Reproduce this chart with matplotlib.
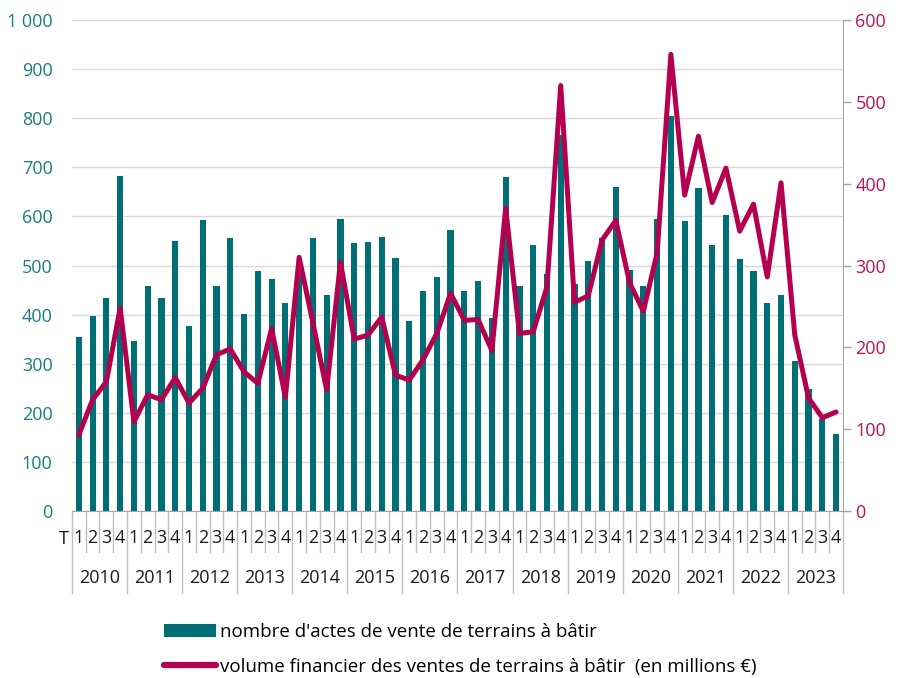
import numpy as np
import matplotlib.pyplot as plt
from matplotlib.transforms import blended_transform_factory

plt.rcParams['font.family'] = ['Open Sans', 'DejaVu Sans']

years = list(range(2010, 2024))
quarters = ["1", "2", "3", "4"]

# nombre d'actes de vente de terrains à bâtir (axe gauche)
actes = [355, 398, 434, 683,
         346, 459, 434, 550,
         377, 592, 458, 555,
         401, 489, 472, 423,
         480, 557, 439, 594,
         545, 548, 558, 515,
         386, 448, 476, 572,
         448, 468, 394, 680,
         459, 542, 482, 765,
         462, 509, 556, 660,
         491, 458, 594, 805,
         591, 657, 542, 603,
         513, 489, 423, 440,
         305, 248, 187, 157]

# volume financier en millions d'euros (axe droit)
volume = [93, 136, 158, 248,
          109, 142, 136, 163,
          132, 150, 191, 198,
          170, 156, 223, 139,
          310, 230, 148, 304,
          210, 215, 237, 166,
          160, 185, 217, 266,
          233, 234, 196, 370,
          217, 219, 274, 520,
          255, 263, 331, 355,
          279, 244, 315, 558,
          386, 458, 377, 419,
          342, 375, 286, 401,
          215, 138, 114, 121]

teal = "#006e75"
crimson = "#b5004f"
grey = "#a6a6a6"

fig = plt.figure(figsize=(9.04, 6.78), dpi=100)
ax = fig.add_axes([0.0796, 0.2463, 0.8529, 0.7242])
ax2 = ax.twinx()

x = np.arange(len(actes))
bars = ax.bar(x, actes, width=0.45, color=teal, zorder=2,
              label="nombre d'actes de vente de terrains à bâtir")
line, = ax2.plot(x, volume, color=crimson, lw=3.6, solid_joinstyle="round",
                 solid_capstyle="round",
                 label="volume financier des ventes de terrains à bâtir  (en millions €)")

ax.set_xlim(-0.5, len(actes) - 0.5)
ax.set_ylim(0, 1000)
ax2.set_ylim(0, 600)

ax.set_yticks(range(0, 1001, 100))
ax.set_yticklabels([f"{v:,}".replace(",", " ") for v in range(0, 1001, 100)])
ax2.set_yticks(range(0, 601, 100))

ax.grid(axis="y", color="#d9d9d9", lw=1, zorder=0)
ax.set_axisbelow(True)

for a in (ax, ax2):
    for s in ("top", "left"):
        a.spines[s].set_visible(False)
ax.spines["right"].set_visible(False)
ax2.spines["bottom"].set_visible(False)
ax2.spines["right"].set_color(grey)
ax.spines["bottom"].set_color(grey)

ax.tick_params(axis="y", length=0, pad=14, labelsize=13, labelcolor="#1b7d84")
ax2.tick_params(axis="y", length=6, width=1, color=grey, pad=3,
                labelsize=13, labelcolor="#c0105a")

ax.set_xticks(x)
ax.set_xticklabels(quarters * len(years))
ax.tick_params(axis="x", length=0, pad=13, labelsize=13, labelcolor="#1a1a1a")

trans = blended_transform_factory(ax.transData, ax.transAxes)
for i in range(len(actes) + 1):
    bx = i - 0.5
    bottom = -0.167 if i % 4 == 0 else -0.0835
    ax.plot([bx, bx], [0, bottom], transform=trans, color="#bfbfbf",
            lw=1, clip_on=False)

for k, yr in enumerate(years):
    ax.text(4 * k + 1.5, -0.136, str(yr), transform=trans, ha="center",
            va="center", fontsize=13, color="#1a1a1a")

ax.text(-0.75, -0.057, "T", transform=trans, ha="right", va="center",
        fontsize=13, color="#1a1a1a")

leg = fig.legend([bars, line], [bars.get_label(), line.get_label()],
                 loc="upper left", bbox_to_anchor=(0.1735, 0.092), frameon=False,
                 fontsize=13.5, handlelength=2.75, handletextpad=0.2,
                 labelspacing=0.9, borderaxespad=0)
leg.get_lines()[0].set_linewidth(4.5)

fig.savefig("out.png", dpi=100)
